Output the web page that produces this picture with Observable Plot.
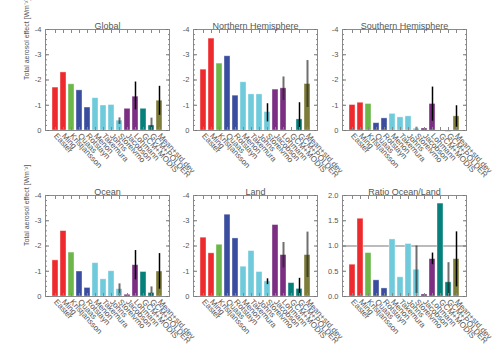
<!DOCTYPE html>
<html><head><meta charset="utf-8">
<script src="https://cdn.jsdelivr.net/npm/d3@7"></script>
<script src="https://cdn.jsdelivr.net/npm/@observablehq/plot@0.6"></script>
<style>
body{margin:0;background:#fff;}
#chart{position:relative;width:504px;height:360px;overflow:hidden;background:#fff;}
#chart svg{position:absolute;overflow:visible;}
</style></head><body><div id="chart"></div>
<script>
// ---- data ----
const models = ["Easter","Ming","Kristjansson","Quaas","Rotstayn","Menon","Takemura","Johns","Storelvmo","Jacobson","Lohmann","GCM+MODIS","GCM+POLDER","Mean+std.dev"];
const family = ["g1","g1","g2","g3","g3","g4","g4","g4","g4","g5","g5","g6","g6","g7"];

const globalVals = [-1.70,-2.30,-1.83,-1.59,-0.91,-1.28,-0.99,-1.01,-0.39,-0.86,-1.34,-0.86,-0.20,-1.18];
const nhVals     = [-2.41,-3.64,-2.65,-2.94,-1.38,-1.91,-1.43,-1.43,-0.73,-1.62,-1.67,null,-0.44,-1.84];
const shVals     = [-1.01,-1.10,-1.05,-0.29,-0.48,-0.66,-0.52,-0.56,-0.07,-0.08,-1.05,null,0.05,-0.56];
const oceanVals  = [-1.43,-2.59,-1.74,-0.99,-0.34,-1.32,-0.68,-1.00,-0.29,-0.07,-1.24,-0.97,-0.14,-0.99];
const landVals   = [-2.33,-1.71,-2.05,-3.24,-2.30,-1.18,-1.80,-0.97,-0.60,-2.83,-1.64,-0.53,-0.30,-1.64];
const ratioVals  = [0.63,1.54,0.86,0.32,0.16,1.13,0.38,1.04,0.53,0.04,0.74,1.84,0.28,0.74];

// error ranges: [model, from, to, kind]  kind "a" = dark, "b" = grey
const globalErr = [["Storelvmo",-0.24,-0.50,"b"],["Lohmann",-0.82,-1.92,"a"],["GCM+POLDER",0,-0.49,"b"],["Mean+std.dev",-0.60,-1.75,"a"]];
const nhErr     = [["Storelvmo",-0.34,-1.06,"a"],["Lohmann",-1.19,-2.12,"b"],["GCM+POLDER",0,-1.10,"a"],["Mean+std.dev",-0.91,-2.77,"b"]];
const shErr     = [["Storelvmo",0,-0.13,"b"],["Lohmann",-0.37,-1.72,"a"],["Mean+std.dev",-0.13,-0.98,"a"]];
const oceanErr  = [["Storelvmo",-0.03,-0.50,"b"],["Lohmann",-0.66,-1.82,"a"],["GCM+POLDER",0,-0.38,"b"],["Mean+std.dev",-0.29,-1.70,"a"]];
const landErr   = [["Storelvmo",-0.47,-0.70,"a"],["Lohmann",-1.13,-2.14,"b"],["GCM+POLDER",0,-0.72,"a"],["Mean+std.dev",-0.75,-2.55,"b"]];
const ratioErr  = [["Storelvmo",0.06,1.00,"b"],["Lohmann",0.63,0.86,"a"],["GCM+POLDER",0,0.67,"b"],["Mean+std.dev",0.19,1.28,"a"]];

const effectTicks = [0,-1,-2,-3,-4];
const ratioTicks = [0,0.5,1,1.5,2];
const yLabelText = "Total aerosol effect [Wm⁻²]";

// ---- drawing ----
const FONT = "Liberation Sans, Arial, sans-serif";
const TXT = "#555";
const colorDomain = ["g1","g2","g3","g4","g5","g6","g7"];
const colorRange = ["#ee2a2e","#6cb64a","#3a4d9e","#6fcbdc","#7b2e82","#05807b","#7d7c38"];

function panel({title, vals, errs, ratio=false, ylabel=null, left, top}) {
  const data = models.map((m,i)=>({model:m, value:vals[i], fam:family[i]})).filter(d=>d.value!=null);
  const ed = errs.map(([model,lo,hi,kind])=>({model,lo,hi,kind}));
  const yDomain = ratio ? [0,2] : [0,-4];
  const majors = ratio ? ratioTicks : effectTicks;
  const minors = ratio ? d3.range(0,2.0001,0.1) : d3.range(0,4.0001,0.2).map(v=>-v);
  const fmt = ratio ? d3.format(".1f") : (d => String(d));
  const marks = [];
  if (ratio) marks.push(Plot.ruleY([1], {stroke:"#bbb", strokeWidth:2}));
  marks.push(
    Plot.barY(data, {x:"model", y:"value", fill:"fam", stroke:"#fff", strokeOpacity:0.5, strokeWidth:0.8}),
    Plot.ruleX(ed.filter(d=>d.kind==="b"), {x:"model", y1:"lo", y2:"hi", stroke:"#222", strokeOpacity:0.65, strokeWidth:2}),
    Plot.ruleX(ed.filter(d=>d.kind==="a"), {x:"model", y1:"lo", y2:"hi", stroke:"#000", strokeWidth:1.5}),
    Plot.frame({stroke:"#8a8a8a"}),
    // inward ticks
    Plot.axisY({anchor:"left", ticks:majors, tickSize:4, dx:4, fill:"none", stroke:"#777"}),
    Plot.axisY({anchor:"left", ticks:minors, tickSize:2, dx:2, fill:"none", stroke:"#888"}),
    Plot.axisY({anchor:"right", ticks:majors, tickSize:4, dx:-4, fill:"none", stroke:"#777"}),
    Plot.axisY({anchor:"right", ticks:minors, tickSize:2, dx:-2, fill:"none", stroke:"#888"}),
    Plot.axisX({anchor:"top", tickSize:3, dy:3, fill:"none", stroke:"#888"}),
    Plot.axisX({anchor:"bottom", tickSize:3, dy:-3, fill:"none", stroke:"#888"}),
    // labels
    Plot.axisY({anchor:"left", ticks:majors, tickSize:0, tickPadding:4, tickFormat:fmt, label:null, fill:TXT, fontSize:7.5}),
    Plot.axisX({anchor:"bottom", tickSize:0, tickPadding:4, tickRotate:48, label:null, fill:TXT, fontSize:8}),
    Plot.text([title], {frameAnchor:"top", dy:-7, text:d=>d, fill:TXT, fontSize:9})
  );
  if (ylabel) marks.push(Plot.text([ylabel], {frameAnchor:"left", dx:-19, rotate:-90, text:d=>d, fill:TXT, fontSize:7}));
  const svg = Plot.plot({
    width: 172, height: 175,
    marginLeft: 40, marginRight: 8, marginTop: 24, marginBottom: 50,
    style: {fontFamily: FONT, background: "transparent", overflow: "visible"},
    x: {type:"band", domain: models, paddingInner:0.3, paddingOuter:0.65, label:null},
    y: {domain: yDomain, label:null},
    color: {domain: colorDomain, range: colorRange},
    marks
  });
  svg.style.left = left + "px";
  svg.style.top = top + "px";
  document.getElementById("chart").appendChild(svg);
}

const cols = [5, 153, 302];
const rows = [5, 171];
panel({title:"Global", vals:globalVals, errs:globalErr, ylabel:yLabelText, left:cols[0], top:rows[0]});
panel({title:"Northern Hemisphere", vals:nhVals, errs:nhErr, left:cols[1], top:rows[0]});
panel({title:"Southern Hemisphere", vals:shVals, errs:shErr, left:cols[2], top:rows[0]});
panel({title:"Ocean", vals:oceanVals, errs:oceanErr, ylabel:yLabelText, left:cols[0], top:rows[1]});
panel({title:"Land", vals:landVals, errs:landErr, left:cols[1], top:rows[1]});
panel({title:"Ratio Ocean/Land", vals:ratioVals, errs:ratioErr, ratio:true, left:cols[2], top:rows[1]});
</script></body></html>
